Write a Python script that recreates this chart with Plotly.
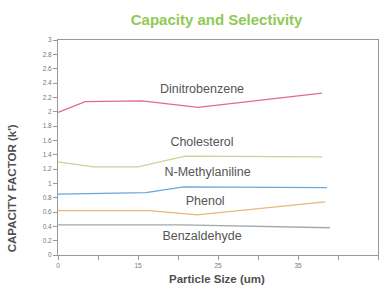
import plotly.graph_objects as go

# Data
dnb_x = [0, 3.4, 10.5, 17.5, 33]
dnb_y = [1.99, 2.14, 2.15, 2.06, 2.26]

chol_x = [0, 4.4, 10, 15.9, 33]
chol_y = [1.30, 1.23, 1.23, 1.38, 1.37]

nma_x = [0, 11, 15.7, 33.6]
nma_y = [0.85, 0.87, 0.95, 0.94]

phenol_x = [0, 11.5, 17.4, 33.4]
phenol_y = [0.62, 0.62, 0.56, 0.74]

benz_x = [0, 15.5, 34]
benz_y = [0.42, 0.42, 0.38]

series_names = ["Dinitrobenzene", "Cholesterol", "N-Methylaniline", "Phenol", "Benzaldehyde"]
label_x = [18.0, 18.0, 18.7, 18.4, 18.0]
label_y = [2.3, 1.56, 1.14, 0.74, 0.25]

x_tick_vals = [0, 10, 20, 30, 40]
x_tick_text = ["0", "15", "25", "35", "40"]

colors = ["#e06a8a", "#cfd096", "#6ea6d6", "#e8b878", "#9eaaae"]

FONT = "Liberation Sans, Arial"

fig = go.Figure()
for xs, ys, c, n in zip([dnb_x, chol_x, nma_x, phenol_x, benz_x],
                        [dnb_y, chol_y, nma_y, phenol_y, benz_y], colors, series_names):
    fig.add_trace(go.Scatter(x=xs, y=ys, mode="lines", name=n,
                             line=dict(color=c, width=1.3), showlegend=False))

fig.add_trace(go.Scatter(x=label_x, y=label_y, mode="text", text=series_names,
                         textfont=dict(family=FONT, size=12.5, color="#555555"),
                         showlegend=False, hoverinfo="skip"))

fig.update_layout(
    width=380, height=286,
    margin=dict(l=58, r=2, t=40, b=31),
    paper_bgcolor="white", plot_bgcolor="white",
    title=dict(text="<b>Capacity and Selectivity</b>", x=0.57, xanchor="center",
               y=0.93, yanchor="middle",
               font=dict(family=FONT, size=15, color="#8fca55")),
    xaxis=dict(range=[0, 40], tickvals=x_tick_vals, ticktext=x_tick_text,
               showgrid=False, zeroline=False, showline=True, linecolor="#999999",
               linewidth=1, mirror=True, ticks="outside", ticklen=4, tickcolor="#999999",
               minor=dict(dtick=5, ticks="outside", ticklen=4, tickcolor="#999999"),
               tickfont=dict(family=FONT, size=6.5, color="#777777"), automargin=False),
    yaxis=dict(range=[0, 3], dtick=0.2, tick0=0,
               showgrid=False, zeroline=False, showline=True, linecolor="#999999",
               linewidth=1, mirror=True, ticks="outside", ticklen=4, tickcolor="#999999",
               tickfont=dict(family=FONT, size=6.5, color="#777777"), automargin=False),
    annotations=[
        dict(text="<b>CAPACITY FACTOR (k')</b>", xref="paper", yref="paper",
             x=-0.144, y=0.31, xanchor="center", yanchor="middle", textangle=-90,
             showarrow=False, font=dict(family=FONT, size=11.5, color="#505050")),
        dict(text="<b>Particle Size (um)</b>", xref="paper", yref="paper",
             x=0.497, y=-0.112, xanchor="center", yanchor="middle",
             showarrow=False, font=dict(family=FONT, size=11.5, color="#505050")),
    ],
)

fig.write_html("out.html", config={"displayModeBar": False},
               post_script="document.body.style.margin='0';document.body.style.overflow='hidden';")
